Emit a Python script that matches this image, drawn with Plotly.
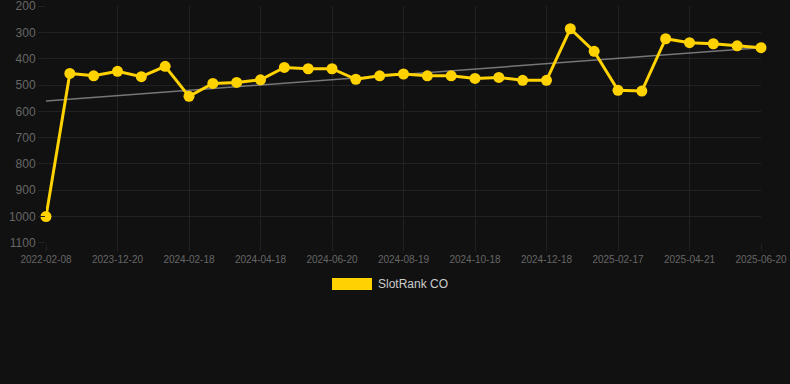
import numpy as np
import plotly.graph_objects as go

dates = ["2022-02-08", "d1", "d2", "2023-12-20", "d4", "d5", "2024-02-18", "d7", "d8",
         "2024-04-18", "d10", "d11", "2024-06-20", "d13", "d14", "2024-08-19", "d16", "d17",
         "2024-10-18", "d19", "d20", "2024-12-18", "d22", "d23", "2025-02-17", "d25", "d26",
         "2025-04-21", "d28", "d29", "2025-06-20"]
tick_labels = ["2022-02-08", "2023-12-20", "2024-02-18", "2024-04-18", "2024-06-20",
               "2024-08-19", "2024-10-18", "2024-12-18", "2025-02-17", "2025-04-21", "2025-06-20"]
ranks = [1000, 456, 465, 448, 468, 429, 543, 494, 490, 480, 433, 438, 438, 478, 465,
         458, 465, 465, 475, 471, 482, 482, 286, 372, 520, 523, 324, 339, 343, 351, 358]
y_ticks = [200, 300, 400, 500, 600, 700, 800, 900, 1000, 1100]
series_name = "SlotRank CO"

idx = np.arange(len(ranks))
coef = np.polyfit(idx, ranks, 1)
trend = np.polyval(coef, idx)

fig = go.Figure()
fig.add_trace(go.Scatter(x=idx, y=trend, mode="lines",
                         line=dict(color="#777777", width=1.5), showlegend=False,
                         hoverinfo="skip"))
fig.add_trace(go.Scatter(x=idx, y=ranks, mode="lines+markers", name=series_name,
                         line=dict(color="#FFD200", width=3),
                         marker=dict(color="#FFD200", size=11), showlegend=False,
                         cliponaxis=False))

tick_idx = [i for i, d in enumerate(dates) if d in tick_labels]

fig.update_layout(
    width=790, height=384,
    paper_bgcolor="#111111", plot_bgcolor="#111111",
    margin=dict(l=46, r=29, t=6, b=141),
    font=dict(family="Liberation Sans, Arial, sans-serif", color="#666666"),
    xaxis=dict(range=[0, len(ranks) - 1], tickmode="array", tickvals=tick_idx,
               ticktext=[dates[i] for i in tick_idx], showgrid=True,
               gridcolor="#222222", zeroline=False, showline=False,
               tickfont=dict(size=10, color="#666666"), ticks="outside", ticklen=7,
               tickcolor="#222222", ticklabeloverflow="allow", automargin=False),
    yaxis=dict(range=[1100.5, 199.5], tickmode="array", tickvals=y_ticks,
               showgrid=True, gridcolor="#222222",
               zeroline=False, showline=False, tickfont=dict(size=12, color="#666666"),
               ticks="outside", ticklen=7, tickcolor="#222222",
               ticklabeloverflow="allow", automargin=False),
    shapes=[dict(type="rect", xref="paper", yref="paper",
                 x0=(332 - 46) / 715, x1=(372 - 46) / 715,
                 y0=(243 - 290) / 237, y1=(243 - 278) / 237,
                 fillcolor="#FFD200", line=dict(width=0))],
    annotations=[dict(text=series_name, xref="paper", yref="paper",
                      x=(376 - 46) / 715, y=(243 - 284) / 237, xanchor="left",
                      yanchor="middle", showarrow=False,
                      font=dict(size=12, color="#CCCCCC"))],
)

fig.write_html("out.html", config={"displayModeBar": False},
               post_script="document.body.style.margin='0';document.body.style.background='#111111';")
